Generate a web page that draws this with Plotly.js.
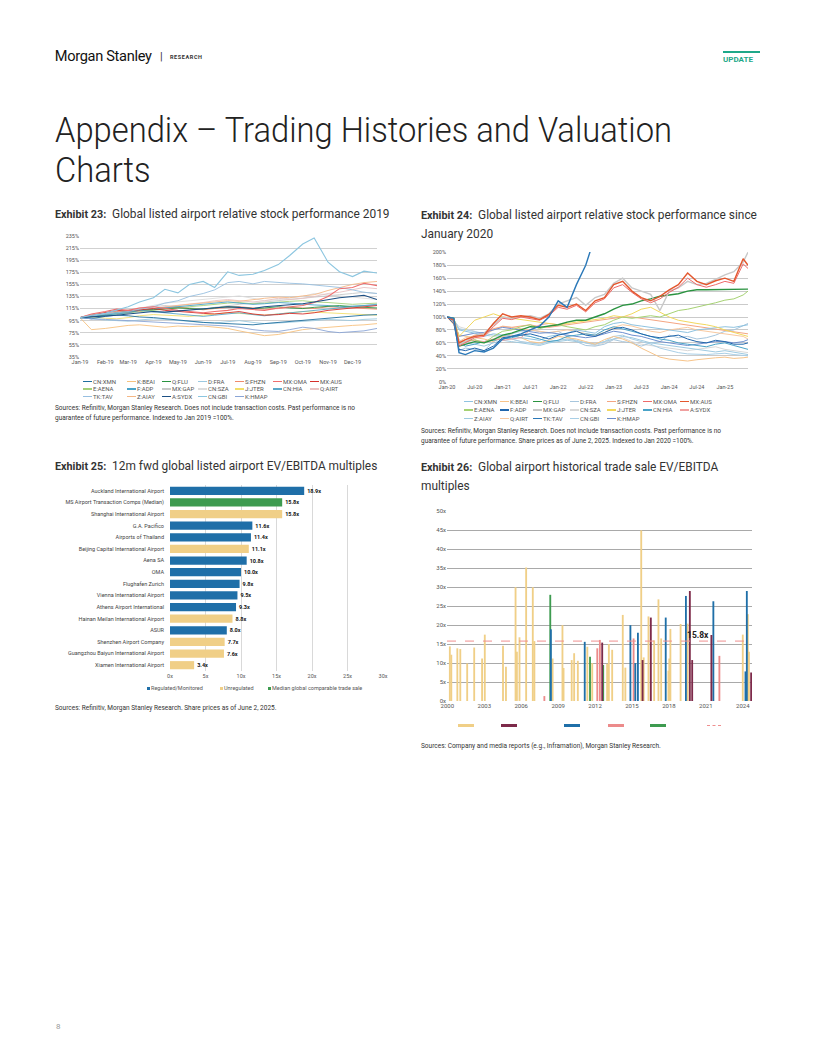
<!DOCTYPE html>
<html><head><meta charset="utf-8">
<script src="https://cdn.plot.ly/plotly-3.0.1.min.js"></script>
<style>
body{margin:0;background:#fff;}
#page{position:relative;width:816px;height:1056px;overflow:hidden;font-family:Roboto,Arial,sans-serif;color:#222;background:#fff;}
.abs{position:absolute;white-space:nowrap;}
.ex{font-size:11.9px;color:#333;line-height:18px;}
.ex b{font-size:10.8px;font-weight:700;color:#333;}
.src{font-size:6.5px;color:#333;line-height:9.5px;}
.lg{position:absolute;font-size:6px;color:#555;white-space:nowrap;line-height:7px;}
.lg i{display:inline-block;width:9px;height:1.4px;vertical-align:middle;margin-right:1px;position:relative;top:-0.5px;}
.chart{position:absolute;}
</style></head>
<body><div id="page">

<div class="abs" id="msname" style="left:55px;top:49px;font-size:14.5px;line-height:16px;color:#111;letter-spacing:-0.3px;">Morgan Stanley</div>
<div class="abs" style="left:160px;top:50px;font-size:11px;line-height:14px;color:#333;">|</div>
<div class="abs" style="left:170px;top:54px;font-size:5.5px;line-height:7px;font-weight:700;color:#333;letter-spacing:0.6px;">RESEARCH</div>
<div class="abs" style="left:723px;top:51px;width:37px;height:2px;background:#1ea889;"></div>
<div class="abs" style="left:723px;top:55px;font-size:8px;line-height:9px;font-weight:700;color:#1ea889;">UPDATE</div>

<div class="abs" id="maintitle" style="left:55px;top:111px;font-size:35px;line-height:40px;font-weight:300;color:#222;transform-origin:0 0;">Appendix – Trading Histories and Valuation<br>Charts</div>

<div class="abs ex" style="left:55px;top:205px;"><b>Exhibit 23:</b>&nbsp; Global listed airport relative stock performance 2019</div>
<div class="abs ex" style="left:421px;top:206px;"><b>Exhibit 24:</b>&nbsp; Global listed airport relative stock performance since<br>January 2020</div>
<div class="abs ex" style="left:55px;top:457px;"><b>Exhibit 25:</b>&nbsp; 12m fwd global listed airport EV/EBITDA multiples</div>
<div class="abs ex" style="left:421px;top:458px;"><b>Exhibit 26:</b>&nbsp; Global airport historical trade sale EV/EBITDA<br>multiples</div>

<div id="c23" class="chart" style="left:50px;top:225px;width:335px;height:150px;"></div>
<div id="c24" class="chart" style="left:410px;top:240px;width:345px;height:155px;"></div>
<div id="c25" class="chart" style="left:50px;top:478px;width:340px;height:215px;"></div>
<div id="c26" class="chart" style="left:410px;top:500px;width:350px;height:215px;"></div>

<div id="lg23"></div>
<div id="lg24"></div>

<div class="abs src" style="left:55px;top:404px;">Sources: Refinitiv, Morgan Stanley Research. Does not include transaction costs. Past performance is no<br>guarantee of future performance. Indexed to Jan 2019 =100%.</div>
<div class="abs src" style="left:421px;top:427px;">Sources: Refinitiv, Morgan Stanley Research. Does not include transaction costs. Past performance is no<br>guarantee of future performance. Share prices as of June 2, 2025. Indexed to Jan 2020 =100%.</div>
<div class="abs src" style="left:55px;top:704px;">Sources: Refinitiv, Morgan Stanley Research. Share prices as of June 2, 2025.</div>
<div class="abs src" style="left:421px;top:742px;">Sources: Company and media reports (e.g., Inframation), Morgan Stanley Research.</div>

<div class="lg" style="left:147px;top:685px;font-size:5.5px;"><span style="display:inline-block;width:3px;height:3px;background:#1f6fa8;margin-right:1px;"></span>Regulated/Monitored</div>
<div class="lg" style="left:220px;top:685px;font-size:5.5px;"><span style="display:inline-block;width:3px;height:3px;background:#f0cf87;margin-right:1px;"></span>Unregulated</div>
<div class="lg" style="left:268px;top:685px;font-size:5.5px;"><span style="display:inline-block;width:3px;height:3px;background:#3e9b50;margin-right:1px;"></span>Median global comparable trade sale</div>

<div class="abs" style="left:458px;top:723.5px;width:16px;height:3.5px;background:#f0cf87;"></div>
<div class="abs" style="left:501px;top:723.5px;width:16px;height:3.5px;background:#7d2a4a;"></div>
<div class="abs" style="left:564px;top:723.5px;width:16px;height:3.5px;background:#1f6fa8;"></div>
<div class="abs" style="left:608px;top:723.5px;width:16px;height:3.5px;background:#ec8b8b;"></div>
<div class="abs" style="left:650px;top:723.5px;width:16px;height:3.5px;background:#3e9b50;"></div>
<div class="abs" style="left:707px;top:724.5px;width:14px;height:0;border-top:1px dashed #ef8f8f;"></div>

<div class="abs" style="left:56px;top:1022px;font-size:8px;color:#999;">8</div>
</div>

<script>
// ---------------- Exhibit 23 data ----------------
const d23 = ['2019-01-01','2019-01-15','2019-02-01','2019-02-15','2019-03-01','2019-03-15','2019-04-01','2019-04-15','2019-05-01','2019-05-15','2019-06-01','2019-06-15','2019-07-01','2019-07-15','2019-08-01','2019-08-15','2019-09-01','2019-09-15','2019-10-01','2019-10-15','2019-11-01','2019-11-15','2019-12-01','2019-12-15','2019-12-31'];
const names23 = ['CN:XMN','K:BEAI','Q:FLU','D:FRA','S:FHZN','MX:OMA','MX:AUS','E:AENA','F:ADP','MX:GAP','CN:SZA','J:JTER','CN:HIA','Q:AIRT','TK:TAV','Z:AIAY','A:SYDX','CN:GBI','K:HMAP'];
const v23_CN_XMN = [100,98,102,104,103,101,100,98,96,94,92,91,90,89,88,90,92,94,95,97,99,100,102,104,105];
const v23_K_BEAI = [100,80,82,85,87,88,86,84,86,85,86,84,82,78,74,70,72,76,80,82,84,86,87,88,90];
const v23_Q_FLU = [100,102,105,108,110,112,113,114,116,115,114,116,118,117,115,116,118,116,115,117,119,120,118,117,116];
const v23_D_FRA = [100,98,96,95,94,96,98,97,95,93,92,91,93,95,92,90,91,92,93,95,97,96,95,97,98];
const v23_S_FHZN = [100,105,108,110,109,111,114,116,117,115,113,115,117,118,116,114,115,117,116,115,118,117,116,115,114];
const v23_MX_OMA = [100,106,110,114,112,116,118,115,112,110,108,110,112,115,114,112,116,118,120,125,135,148,150,157,153];
const v23_MX_AUS = [100,104,108,112,111,113,115,112,110,108,107,106,108,110,106,104,105,107,106,108,112,114,116,118,120];
const v23_E_AENA = [100,102,104,106,108,110,112,114,116,118,120,122,124,125,123,124,126,127,128,126,125,124,122,123,124];
const v23_F_ADP = [100,101,104,106,108,112,114,116,118,120,122,124,126,124,122,123,125,124,122,121,120,118,119,120,121];
const v23_MX_GAP = [100,103,106,110,112,116,118,120,118,116,114,117,120,122,124,126,128,130,132,134,136,138,140,142,140];
const v23_CN_SZA = [100,102,104,108,112,116,120,124,126,128,130,132,134,136,132,128,130,132,135,140,138,136,134,132,130];
const v23_J_JTER = [100,101,99,98,100,103,105,104,103,102,104,106,108,107,105,104,106,108,110,109,108,107,106,105,104];
const v23_CN_HIA = [100,103,105,108,110,112,110,108,106,104,102,104,106,108,105,103,106,108,110,112,114,116,118,120,122];
const v23_Q_AIRT = [100,102,105,108,110,112,115,118,120,122,125,128,130,128,126,128,132,130,132,135,140,142,146,150,148];
const v23_TK_TAV = [100,103,106,108,110,114,118,124,128,135,140,146,158,160,156,160,158,157,156,154,152,150,146,142,140];
const v23_Z_AIAY = [100,102,104,106,108,112,115,118,120,122,124,126,128,127,130,132,134,133,136,138,145,150,155,158,160];
const v23_A_SYDX = [100,101,103,104,106,108,110,109,111,113,114,116,118,117,115,118,120,121,123,126,130,133,135,137,130];
const v23_CN_GBI = [100,104,107,112,118,126,133,147,141,155,160,150,176,170,172,178,188,203,222,232,192,176,168,177,174];
const v23_K_HMAP = [100,98,97,96,95,94,93,92,90,89,88,88,86,84,80,78,77,80,84,82,77,75,76,78,82];
const series23 = [v23_CN_XMN,v23_K_BEAI,v23_Q_FLU,v23_D_FRA,v23_S_FHZN,v23_MX_OMA,v23_MX_AUS,v23_E_AENA,v23_F_ADP,v23_MX_GAP,v23_CN_SZA,v23_J_JTER,v23_CN_HIA,v23_Q_AIRT,v23_TK_TAV,v23_Z_AIAY,v23_A_SYDX,v23_CN_GBI,v23_K_HMAP];
const yTicks23 = [35,55,75,95,115,135,155,175,195,215,235];

// ---------------- Exhibit 24 data ----------------
const d24 = ['2020-01-01','2020-02-15','2020-03-20','2020-05-01','2020-07-01','2020-09-01','2020-11-01','2021-01-01','2021-03-01','2021-05-01','2021-07-01','2021-09-01','2021-11-01','2022-01-01','2022-03-01','2022-05-01','2022-07-01','2022-09-01','2022-11-01','2023-01-01','2023-03-01','2023-05-01','2023-07-01','2023-09-01','2023-11-01','2024-01-01','2024-03-01','2024-05-01','2024-07-01','2024-09-01','2024-11-01','2025-01-01','2025-03-01','2025-05-01','2025-06-02'];
const names24 = ['CN:XMN','K:BEAI','Q:FLU','D:FRA','S:FHZN','MX:OMA','MX:AUS','E:AENA','F:ADP','MX:GAP','CN:SZA','J:JTER','CN:HIA','A:SYDX','Z:AIAY','Q:AIRT','TK:TAV','CN:GBI','K:HMAP'];
const v24_CN_XMN = [100,95,80,78,75,70,74,72,70,68,66,64,70,72,75,80,78,75,85,90,92,88,86,84,82,80,78,76,80,82,84,85,84,86,88];
const v24_K_BEAI = [100,88,72,70,68,66,62,70,72,68,62,60,64,70,68,66,62,58,65,70,66,60,52,45,38,35,33,32,34,36,37,38,36,37,38];
const v24_Q_FLU = [100,98,55,58,62,60,65,72,75,80,85,84,86,88,92,95,95,100,105,112,118,120,125,128,132,134,136,140,142,142,142,142,143,143,143];
const v24_D_FRA = [100,90,48,52,50,48,62,70,74,78,80,78,75,78,70,62,56,55,58,65,62,60,55,60,62,72,68,70,66,68,72,78,80,86,90];
const v24_S_FHZN = [100,96,60,65,72,75,82,85,84,86,88,85,84,86,88,90,92,94,96,98,100,100,98,96,94,92,90,88,86,84,82,80,78,76,74];
const v24_MX_OMA = [100,96,55,60,68,70,85,98,96,100,98,95,102,115,112,118,108,122,128,145,150,138,128,122,128,138,146,160,150,146,150,155,152,182,175];
const v24_MX_AUS = [100,95,60,65,70,72,90,105,100,102,100,96,104,118,115,120,110,125,130,150,155,140,130,125,132,142,150,168,155,150,156,160,155,190,180];
const v24_E_AENA = [100,96,58,62,65,60,70,78,80,85,88,82,86,88,85,83,80,85,88,95,100,98,100,102,100,105,110,112,115,118,122,126,128,134,140];
const v24_F_ADP = [100,90,50,48,52,48,55,68,70,72,74,70,66,72,75,78,72,70,76,82,84,80,74,70,68,70,72,66,62,60,64,62,58,58,60];
const v24_MX_GAP = [100,97,58,62,70,75,88,100,98,100,102,98,105,120,125,130,118,130,135,152,160,145,140,135,110,140,145,155,150,152,158,165,170,185,200];
const v24_CN_SZA = [100,95,85,82,78,72,70,68,66,62,60,58,62,64,66,64,60,56,60,66,68,62,58,56,54,52,50,48,50,52,54,50,48,46,45];
const v24_J_JTER = [100,98,70,80,95,100,105,100,98,96,95,92,90,88,90,92,94,96,98,102,100,105,112,115,108,100,95,92,90,88,85,80,76,72,70];
const v24_CN_HIA = [100,94,60,55,58,62,64,66,68,72,70,66,62,64,70,72,74,72,80,85,82,78,74,70,66,64,60,58,56,54,58,60,56,52,50];
const v24_A_SYDX = [100,90,57,62,64,62,66,64,66,68,80,88,90,88,90,null,null,null,null,null,null,null,null,null,null,null,null,null,null,null,null,null,null,null,null];
const v24_Z_AIAY = [100,95,65,60,58,55,60,64,62,60,58,56,60,62,64,62,60,58,62,66,70,68,64,60,58,56,54,52,50,48,46,48,46,44,42];
const v24_Q_AIRT = [100,92,62,68,70,72,80,86,84,82,80,78,76,78,80,78,74,72,76,84,88,86,82,78,76,80,82,84,80,78,76,74,72,70,66];
const v24_TK_TAV = [100,98,45,42,48,46,52,66,70,74,80,86,100,125,115,150,180,225,300,380,420,400,450,480,500,520,600,650,600,580,620,650,680,700,690];
const v24_CN_GBI = [100,96,82,80,78,74,72,70,66,62,60,58,62,64,66,64,60,58,62,70,72,66,62,58,52,48,45,43,42,42,43,44,42,41,40];
const v24_K_HMAP = [100,96,70,72,75,76,80,84,82,80,78,75,76,74,72,70,68,70,74,78,76,72,70,66,62,60,58,56,58,60,62,62,60,62,65];
const series24 = [v24_CN_XMN,v24_K_BEAI,v24_Q_FLU,v24_D_FRA,v24_S_FHZN,v24_MX_OMA,v24_MX_AUS,v24_E_AENA,v24_F_ADP,v24_MX_GAP,v24_CN_SZA,v24_J_JTER,v24_CN_HIA,v24_A_SYDX,v24_Z_AIAY,v24_Q_AIRT,v24_TK_TAV,v24_CN_GBI,v24_K_HMAP];

// ---------------- Exhibit 25 data ----------------
const airports25 = ['Auckland International Airport','MS Airport Transaction Comps (Median)','Shanghai International Airport','G.A. Pacifico','Airports of Thailand','Beijing Capital International Airport','Aena SA','OMA','Flughafen Zurich','Vienna International Airport','Athens Airport International','Hainan Meilan International Airport','ASUR','Shenzhen Airport Company','Guangzhou Baiyun International Airport','Xiamen International Airport'];
const multiples25 = [18.9,15.8,15.8,11.6,11.4,11.1,10.8,10.0,9.8,9.5,9.3,8.8,8.0,7.7,7.6,3.4];
const group25 = ['Regulated/Monitored','Median global comparable trade sale','Unregulated','Regulated/Monitored','Regulated/Monitored','Unregulated','Regulated/Monitored','Regulated/Monitored','Regulated/Monitored','Regulated/Monitored','Regulated/Monitored','Unregulated','Regulated/Monitored','Unregulated','Unregulated','Unregulated'];
const groups25 = ['Regulated/Monitored','Unregulated','Median global comparable trade sale'];

// ---------------- Exhibit 26 data ----------------
const goldYears26 = [2000.2,2000.32,2000.81,2001.05,2001.61,2002.18,2002.82,2003.04,2004.52,2004.76,2005.54,2005.65,2005.86,2006.40,2006.94,2007.07,2008.55,2009.35,2009.44,2010.1,2010.3,2010.6,2011.37,2011.77,2012.98,2013.12,2013.39,2014.25,2014.46,2015.75,2015.95,2016.34,2016.80,2017.15,2017.37,2017.96,2018.03,2018.12,2018.95,2019.52,2024.0,2024.41,2024.5];
const goldVals26 = [14.4,12.2,13.9,13.7,9.9,14.1,11.2,17.5,14.6,9.0,30.0,13.0,16.8,35.2,30.0,15.8,11.2,20.0,8.7,10.8,12.6,10.6,14.3,10.0,9.8,15.0,13.5,22.7,8.8,45.0,11.5,22.3,16.0,26.8,16.5,8.0,11.2,19.0,20.3,20.4,17.5,22.9,13.0];
const maroonYears26 = [2012.58,2015.86,2016.53,2019.70,2019.89,2021.45,2024.68];
const maroonVals26 = [15.4,10.8,22.0,29.0,10.8,17.4,7.5];
const blueYears26 = [2008.41,2011.16,2014.87,2015.27,2015.48,2017.74,2019.38,2021.61,2024.22,2024.33];
const blueVals26 = [18.9,15.6,20.0,10.0,18.0,22.0,27.7,26.3,7.8,29.0];
const pinkYears26 = [2007.88,2012.18,2012.39,2015.13,2022.1];
const pinkVals26 = [1.3,13.9,16.1,16.5,11.9];
const greenYears26 = [2008.36,2011.59,2012.66];
const greenVals26 = [28.0,11.7,9.5];
const median26 = 15.8;

// ---------------- styles ----------------
const colors23 = ['#1f6f9f','#f7c27f','#2a9340','#9cc9e0','#f08a6c','#ef6e6e','#d6302b','#a4d07a','#4aa3c8','#c9c9c9','#dddddd','#f2df6b','#5ba8c9','#e9c3c3','#97bfe0','#f5b886','#1c4f84','#8cc6e0','#8aa5d6'];
const colors24 = ['#8fc3e0','#f7c48a','#2a9340','#a7c6dd','#f4a582','#ee6a6a','#e4572e','#a6d273','#2166ac','#c8c8c8','#d9d9d9','#f2d85e','#4aa3c8','#f0a0a0','#9ecae1','#f8c9a0','#2a78b8','#a9cfe6','#6d8fcf'];
const order23 = [10,9,13,3,1,15,11,7,4,8,2,12,6,0,18,14,5,16,17];
const order24 = [10,3,14,17,15,1,4,18,0,12,13,8,11,7,2,9,5,6,16];
const FONT = 'Roboto, Arial, sans-serif';
const cfg = {displayModeBar:false, staticPlot:true};

// ---------- chart 23 ----------
Plotly.newPlot('c23', order23.map(i => ({
  type:'scatter', mode:'lines', x:d23, y:series23[i], name:names23[i],
  line:{color:colors23[i], width:(i===16||i===17||i===5)?1.1:0.9}
})), {
  width:335, height:150, margin:{l:30,r:8,t:11,b:18}, showlegend:false,
  paper_bgcolor:'rgba(0,0,0,0)', plot_bgcolor:'rgba(0,0,0,0)', font:{family:FONT},
  xaxis:{type:'date', range:['2019-01-01','2019-12-31'], tickformat:'%b-%y', dtick:'M1', tick0:'2019-01-01',
    showgrid:false, zeroline:false, ticks:'', tickfont:{size:5.5,color:'#555'}, showline:false},
  yaxis:{range:[34.6,235.4], tickvals:yTicks23, ticktext:yTicks23.map(v=>v+'%'), gridcolor:'#c6c6c6', gridwidth:0.8,
    zeroline:false, tickfont:{size:5.5,color:'#555'}}
}, cfg);

// ---------- chart 24 ----------
Plotly.newPlot('c24', order24.map(i => ({
  type:'scatter', mode:'lines', x:d24, y:series24[i], name:names24[i], connectgaps:false,
  line:{color:colors24[i], width:(i===16||i===6||i===2||i===9)?1.4:1}
})), {
  width:345, height:155, margin:{l:37,r:7,t:12,b:13}, showlegend:false,
  paper_bgcolor:'rgba(0,0,0,0)', plot_bgcolor:'rgba(0,0,0,0)', font:{family:FONT},
  xaxis:{type:'date', range:['2020-01-01','2025-06-02'], tickformat:'%b-%y', dtick:'M6', tick0:'2020-01-01',
    showgrid:false, zeroline:false, ticks:'', tickfont:{size:5.5,color:'#555'}},
  yaxis:{range:[-0.4,200.4], dtick:20, ticksuffix:'%', gridcolor:'#bdbdbd', gridwidth:0.8, zeroline:false,
    tickfont:{size:5.5,color:'#555'}}
}, cfg);

// ---------- chart 25 ----------
const colors25 = {'Regulated/Monitored':'#1f6fa8','Unregulated':'#f0cf87','Median global comparable trade sale':'#3e9b50'};
Plotly.newPlot('c25', groups25.map(g => {
  const idx = airports25.map((a,i)=>i).filter(i => group25[i]===g);
  return {type:'bar', orientation:'h', name:g, y:idx.map(i=>airports25[i]), x:idx.map(i=>multiples25[i]),
    marker:{color:colors25[g]}, text:idx.map(i=>multiples25[i].toFixed(1)+'x'), textposition:'outside',
    cliponaxis:false, textfont:{family:FONT,size:5.5,color:'#111',weight:700}};
}), {
  width:340, height:215, margin:{l:120,r:7,t:7,b:21.6}, showlegend:false, barmode:'overlay', bargap:0.3,
  paper_bgcolor:'rgba(0,0,0,0)', plot_bgcolor:'rgba(0,0,0,0)', font:{family:FONT},
  xaxis:{range:[0,30], dtick:5, ticksuffix:'x', gridcolor:'#cfcfcf', gridwidth:0.8, zeroline:false,
    tickfont:{size:5.5,color:'#555'}, ticks:''},
  yaxis:{type:'category', categoryorder:'array', categoryarray:airports25, autorange:'reversed',
    tickfont:{size:5.5,color:'#444'}, ticks:'', ticklabelstandoff:5, showgrid:false}
}, cfg);

// ---------- chart 26 ----------
const bw = 0.15;
const bars26 = [
  {x:goldYears26, y:goldVals26, c:'#f0cf87'},
  {x:pinkYears26, y:pinkVals26, c:'#ec8b8b'},
  {x:greenYears26, y:greenVals26, c:'#3e9b50'},
  {x:blueYears26, y:blueVals26, c:'#1f6fa8'},
  {x:maroonYears26, y:maroonVals26, c:'#7d2a4a'}
];
Plotly.newPlot('c26', bars26.map(b => ({type:'bar', x:b.x, y:b.y, width:bw, marker:{color:b.c, line:{width:0}}})), {
  width:350, height:215, margin:{l:37,r:8,t:11,b:14}, showlegend:false, barmode:'overlay',
  paper_bgcolor:'rgba(0,0,0,0)', plot_bgcolor:'rgba(0,0,0,0)', font:{family:FONT},
  xaxis:{range:[1999.97,2024.75], tickmode:'linear', tick0:2000, dtick:3, showgrid:false, zeroline:false,
    ticks:'', tickfont:{size:6,color:'#555'}},
  yaxis:{range:[0,50.1], dtick:5, ticksuffix:'x', gridcolor:'#a9a9a9', gridwidth:1, zeroline:false,
    tickfont:{size:6,color:'#555'}},
  shapes:[{type:'line', xref:'paper', x0:0, x1:1, yref:'y', y0:median26, y1:median26,
    line:{color:'#ef8f8f', width:1, dash:'dash'}}],
  annotations:[{x:2020.4, y:median26, yanchor:'bottom', yshift:-1, text:median26.toFixed(1)+'x', showarrow:false,
    font:{family:FONT, size:8.5, color:'#222', weight:700}}]
}, cfg);

// ---------- HTML legends ----------
function buildLegend(id, names, colors, x0, colXs, rowYs){
  const host = document.getElementById(id);
  names.forEach((n,i) => {
    const r = Math.floor(i/7), c = i%7;
    const d = document.createElement('div');
    d.className = 'lg';
    d.style.left = (x0 + colXs[c]) + 'px';
    d.style.top = (rowYs[r] - 3.5) + 'px';
    d.innerHTML = '<i style="background:'+colors[i]+'"></i>' + n;
    host.appendChild(d);
  });
}
buildLegend('lg23', names23, colors23, 83, [0,44,79,115,152,190,227], [381,388.5,396]);
buildLegend('lg24', names24, colors24, 464, [0,36,69,106,143,179,216], [401,409.5,418]);

// fit title widths
function fitWidth(id, target){
  const el = document.getElementById(id);
  const w = el.getBoundingClientRect().width;
  el.style.transform = 'scaleX(' + (target / w) + ')';
}
const tEl = document.getElementById('maintitle');
const probe = document.createElement('span');
probe.textContent = 'Appendix – Trading Histories and Valuation';
probe.style.cssText = 'position:absolute;visibility:hidden;white-space:nowrap;font-size:35px;font-weight:300;font-family:Roboto,Arial,sans-serif;';
document.body.appendChild(probe);
const pw = probe.getBoundingClientRect().width;
tEl.style.transform = 'scaleX(' + (617/pw) + ')';
probe.remove();
fitWidth('msname', 97);
</script>
</body></html>
